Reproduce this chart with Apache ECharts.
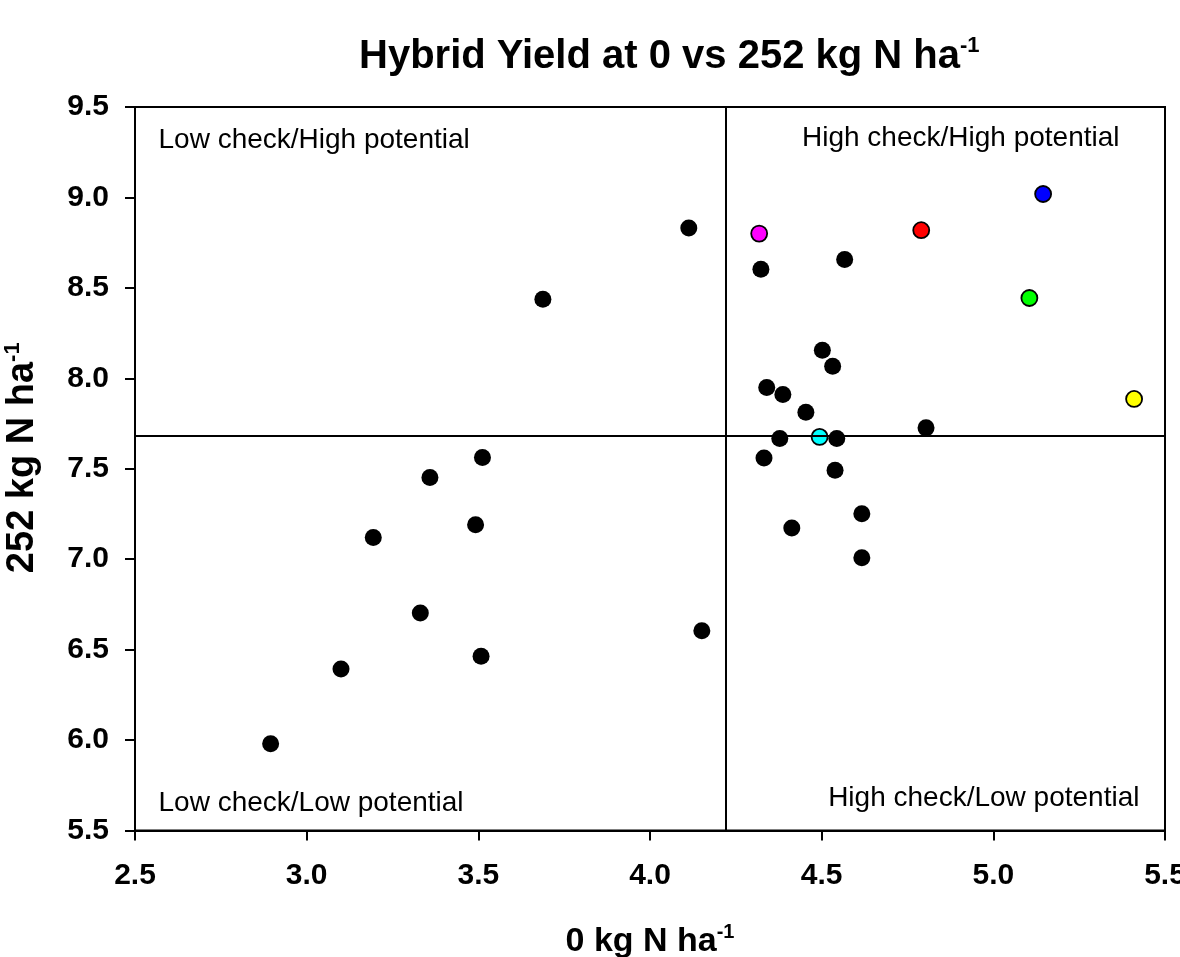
<!DOCTYPE html>
<html>
<head>
<meta charset="utf-8">
<title>Hybrid Yield at 0 vs 252 kg N ha-1</title>
<script src="https://cdn.jsdelivr.net/npm/echarts@6/dist/echarts.min.js"></script>
<style>
  html, body { margin: 0; padding: 0; background: #fff; }
  #chart { width: 1180px; height: 957px; }
</style>
</head>
<body>
<div id="chart"></div>
<script>
"use strict";

// Yield at 0 kg N (x) and at 252 kg N (y), black hybrids
var blackX = [2.895, 3.100, 3.194, 3.331, 3.359, 3.492, 3.512, 3.508, 3.688, 4.113,
              4.151, 4.323, 4.567, 4.502, 4.532, 4.340, 4.387, 4.454, 4.378, 4.544,
              4.804, 4.332, 4.539, 4.413, 4.617, 4.617];
var blackY = [5.980, 6.393, 7.120, 6.702, 7.452, 7.190, 7.562, 6.463, 8.437, 8.831,
              6.604, 8.603, 8.657, 8.155, 8.067, 7.949, 7.911, 7.813, 7.667, 7.667,
              7.726, 7.560, 7.492, 7.173, 7.251, 7.008];

// highlighted hybrids
var highlightX = [4.318, 4.790, 5.145, 5.105, 5.410, 4.494];
var highlightY = [8.800, 8.819, 9.019, 8.444, 7.886, 7.676];
var highlightColors = ["#ff00ff", "#ff0000", "#0000ff", "#00ff00", "#ffff00", "#00ffff"];

// quadrant split (means)
var splitX = 4.22;
var splitY = 7.685;

// axis ticks
var xTicks = [2.5, 3.0, 3.5, 4.0, 4.5, 5.0, 5.5];
var yTicks = [5.5, 6.0, 6.5, 7.0, 7.5, 8.0, 8.5, 9.0, 9.5];

// quadrant captions and their anchor points in data space
var quadrantText = ["Low check/High potential", "High check/High potential",
                    "Low check/Low potential", "High check/Low potential"];
var quadrantX = [2.567, 5.369, 2.567, 5.427];
var quadrantY = [9.316, 9.327, 5.652, 5.680];
var quadrantSide = ["right", "left", "right", "left"];

var FONT = "'Liberation Sans', Arial, Helvetica, sans-serif";

function zip(xs, ys) {
  return xs.map(function(x, i) { return [x, ys[i]]; });
}

function buildQuadrantData() {
  return quadrantText.map(function(text, i) {
    return {
      value: [quadrantX[i], quadrantY[i]],
      label: { formatter: text, position: quadrantSide[i] }
    };
  });
}

function buildHighlightData() {
  return zip(highlightX, highlightY).map(function(p, i) {
    return { value: p, itemStyle: { color: highlightColors[i] } };
  });
}

function axisName(text, size, supSize) {
  return {
    name: "{t|" + text + "}{s|-1}",
    nameTextStyle: {
      rich: {
        t: { fontFamily: FONT, fontWeight: "bold", fontSize: size, color: "#000", lineHeight: size + 4 },
        s: { fontFamily: FONT, fontWeight: "bold", fontSize: supSize, color: "#000", verticalAlign: "top", lineHeight: supSize }
      }
    }
  };
}

var chart = echarts.init(document.getElementById("chart"), null, { renderer: "canvas" });

var axisCommon = {
  type: "value",
  interval: 0.5,
  nameLocation: "middle",
  axisLine: { show: true, onZero: false, lineStyle: { color: "#000", width: 2 } },
  axisTick: { show: true, inside: false, length: 10, lineStyle: { color: "#000", width: 2 } },
  splitLine: { show: false },
  axisLabel: {
    color: "#000",
    fontFamily: FONT,
    fontWeight: "bold",
    fontSize: 30,
    showMinLabel: true,
    showMaxLabel: true,
    hideOverlap: false,
    formatter: function(v) { return v.toFixed(1); }
  }
};

var xAxis = echarts.util.merge(axisName("0 kg N ha", 34, 20), axisCommon, false);
xAxis.min = xTicks[0];
xAxis.max = xTicks[xTicks.length - 1];
xAxis.nameGap = 92;
xAxis.axisLabel = echarts.util.merge({ margin: 30 }, axisCommon.axisLabel, false);

var yAxis = echarts.util.merge(axisName("252 kg N ha", 38, 22), axisCommon, false);
yAxis.min = yTicks[0];
yAxis.max = yTicks[yTicks.length - 1];
yAxis.nameGap = 91;
yAxis.nameRotate = 90;
// nudge the rotated name a little upward, as in the original
yAxis.nameTextStyle.padding = [0, 0, 0, 22];
yAxis.axisLabel = echarts.util.merge({ margin: 26 }, axisCommon.axisLabel, false);

var option = {
  backgroundColor: "#fff",
  animation: false,
  title: {
    text: "{t|Hybrid Yield at 0 vs 252 kg N ha}{s|-1}",
    left: 354,
    top: 30,
    textStyle: {
      rich: {
        t: { fontFamily: FONT, fontWeight: "bold", fontSize: 40, color: "#000", lineHeight: 44 },
        s: { fontFamily: FONT, fontWeight: "bold", fontSize: 22, color: "#000", verticalAlign: "top", lineHeight: 22 }
      }
    }
  },
  grid: {
    left: 135,
    top: 107,
    width: 1030,
    height: 723.5,
    containLabel: false,
    outerBoundsMode: "none",
    show: true,
    borderColor: "#000",
    borderWidth: 2,
    backgroundColor: "transparent"
  },
  xAxis: xAxis,
  yAxis: yAxis,
  series: [
    {
      name: "split",
      type: "scatter",
      data: [],
      markLine: {
        silent: true,
        symbol: "none",
        label: { show: false },
        lineStyle: { color: "#000", width: 2, type: "solid" },
        data: [{ xAxis: splitX }, { yAxis: splitY }]
      }
    },
    {
      name: "hybrids",
      type: "scatter",
      symbol: "circle",
      symbolSize: 17,
      itemStyle: { color: "#000", opacity: 1 },
      data: zip(blackX, blackY)
    },
    {
      name: "highlight",
      type: "scatter",
      symbol: "circle",
      symbolSize: 16,
      itemStyle: { borderColor: "#000", borderWidth: 1.8, opacity: 1 },
      data: buildHighlightData()
    },
    {
      name: "quadrants",
      type: "scatter",
      symbol: "circle",
      symbolSize: 1,
      silent: true,
      itemStyle: { color: "rgba(0,0,0,0)" },
      label: {
        show: true,
        distance: 0,
        color: "#000000",
        opacity: 1,
        fontFamily: FONT,
        fontSize: 28
      },
      labelLayout: { hideOverlap: false },
      data: buildQuadrantData()
    }
  ]
};

chart.setOption(option);
</script>
</body>
</html>
